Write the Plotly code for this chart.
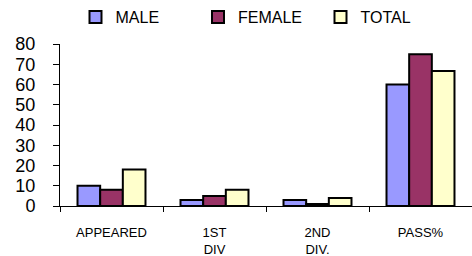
import plotly.graph_objects as go

categories = ["APPEARED", "1ST<br>DIV", "2ND<br>DIV.", "PASS%"]
male = [10, 3, 3, 60]
female = [8, 5, 1, 75]
total = [18, 8, 4, 66.7]
series_names = ["MALE", "FEMALE", "TOTAL"]
colors = ["#9999FF", "#993366", "#FFFFCC"]
y_ticks = [0, 10, 20, 30, 40, 50, 60, 70, 80]

fig = go.Figure()
for name, vals, col in zip(series_names, [male, female, total], colors):
    fig.add_trace(go.Bar(
        x=categories, y=vals, name=name,
        marker=dict(color=col, line=dict(color="black", width=2)),
    ))

fig.update_layout(
    width=472, height=256,
    margin=dict(l=60, r=0, t=44, b=50, autoexpand=False),
    paper_bgcolor="white", plot_bgcolor="white",
    font=dict(family="Liberation Sans, Arial, sans-serif", color="black"),
    barmode="group", bargap=0.34, bargroupgap=0,
    showlegend=True,
    legend=dict(orientation="h", x=75.5 / 472, xanchor="left", xref="container",
                y=1.0, yanchor="top", yref="container",
                font=dict(size=16), traceorder="normal",
                itemwidth=30, entrywidth=77.5, entrywidthmode="pixels"),
    xaxis=dict(showline=True, linecolor="black", linewidth=1, automargin=False,
               ticks="outside", tickson="boundaries", ticklen=5, tickcolor="black",
               tickfont=dict(size=13), ticklabelstandoff=14, showgrid=False),
    yaxis=dict(range=[0, 80], tickvals=y_ticks, showline=True, linecolor="black",
               linewidth=1, ticks="outside", ticklen=6, tickcolor="black",
               tickfont=dict(size=18), showgrid=False, zeroline=False,
               automargin=False, ticklabelstandoff=14),
)
fig.write_html("out.html", config={"displayModeBar": False},
               post_script="document.body.style.margin='0';document.body.style.padding='0';")
